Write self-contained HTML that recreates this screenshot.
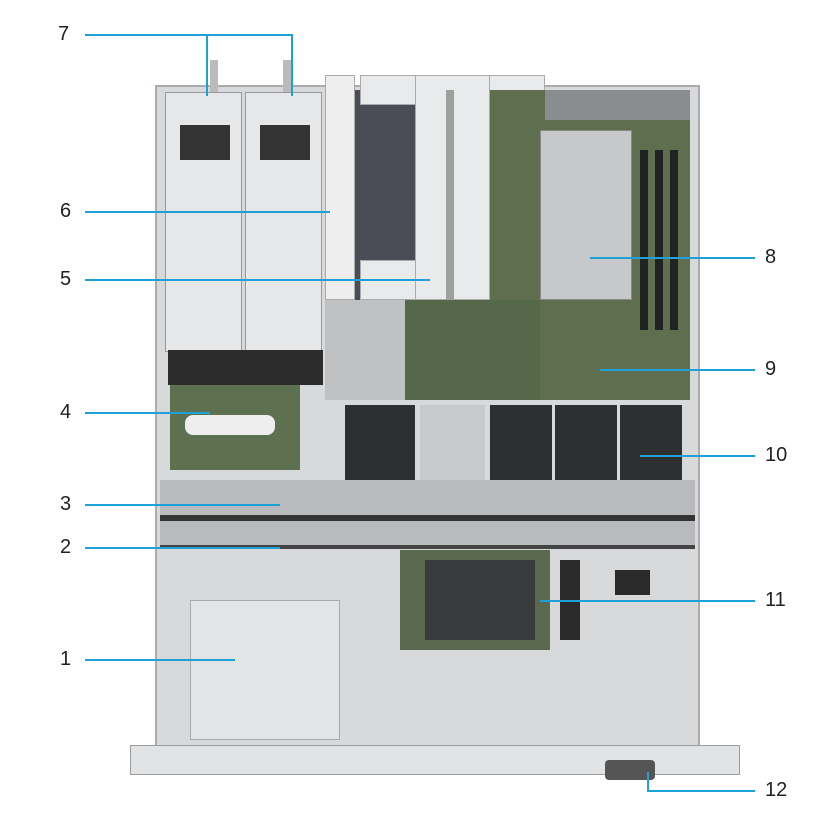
<!DOCTYPE html>
<html><head><meta charset="utf-8"><style>
body{margin:0;width:832px;height:815px;background:#fff;position:relative;overflow:hidden;font-family:"Liberation Sans",sans-serif}
div{position:absolute;box-sizing:border-box}
.t{font-size:20px;color:#222}
.l{background:#1ea0d8}
</style></head><body>
<!-- chassis -->
<div style="left:155px;top:85px;width:545px;height:665px;background:#d8d9db;border:2px solid #a9abae"></div>
<div style="left:130px;top:745px;width:610px;height:30px;background:#e2e3e5;border:1px solid #9a9c9f"></div>
<div style="left:605px;top:760px;width:50px;height:20px;background:#555;border-radius:4px"></div>
<!-- PSUs -->
<div style="left:210px;top:60px;width:8px;height:35px;background:#bbb"></div>
<div style="left:283px;top:60px;width:8px;height:35px;background:#bbb"></div>
<div style="left:165px;top:92px;width:77px;height:260px;background:#e6e7e9;border:1px solid #999"></div>
<div style="left:245px;top:92px;width:77px;height:260px;background:#e6e7e9;border:1px solid #999"></div>
<div style="left:180px;top:125px;width:50px;height:35px;background:#333"></div>
<div style="left:260px;top:125px;width:50px;height:35px;background:#333"></div>
<div style="left:168px;top:350px;width:155px;height:35px;background:#2c2c2c"></div>
<!-- riser -->
<div style="left:325px;top:75px;width:30px;height:225px;background:#eee;border:1px solid #aaa"></div>
<div style="left:355px;top:90px;width:85px;height:210px;background:#4a4d55"></div>
<div style="left:360px;top:75px;width:185px;height:30px;background:#e9eaec;border:1px solid #aaa"></div>
<div style="left:360px;top:260px;width:185px;height:40px;background:#e9eaec;border:1px solid #aaa"></div>
<div style="left:415px;top:75px;width:75px;height:225px;background:#e9eaec;border:1px solid #aaa"></div>
<div style="left:446px;top:90px;width:8px;height:210px;background:#9ea09a"></div>
<!-- motherboard -->
<div style="left:490px;top:90px;width:200px;height:310px;background:#5e6e4e"></div>
<div style="left:545px;top:90px;width:145px;height:30px;background:#8a8d90"></div>
<div style="left:540px;top:130px;width:92px;height:170px;background:#c6c8ca;border:1px solid #888"></div>
<div style="left:640px;top:150px;width:8px;height:180px;background:#222"></div>
<div style="left:655px;top:150px;width:8px;height:180px;background:#222"></div>
<div style="left:670px;top:150px;width:8px;height:180px;background:#222"></div>
<div style="left:400px;top:300px;width:140px;height:100px;background:#56684a"></div>
<!-- cables middle -->
<div style="left:325px;top:300px;width:80px;height:100px;background:#c0c1c3"></div>
<!-- PSU board -->
<div style="left:170px;top:385px;width:130px;height:85px;background:#5d7150"></div>
<div style="left:185px;top:415px;width:90px;height:20px;background:#eee;border-radius:8px"></div>
<!-- fans -->
<div style="left:345px;top:405px;width:70px;height:75px;background:#2e2f31"></div>
<div style="left:420px;top:405px;width:65px;height:75px;background:#c8c9cb"></div>
<div style="left:490px;top:405px;width:62px;height:75px;background:#2e2f31"></div>
<div style="left:555px;top:405px;width:62px;height:75px;background:#2e2f31"></div>
<div style="left:620px;top:405px;width:62px;height:75px;background:#2e2f31"></div>
<!-- cable band -->
<div style="left:160px;top:480px;width:535px;height:65px;background:#b9babd"></div>
<div style="left:160px;top:515px;width:535px;height:6px;background:#333"></div>
<div style="left:160px;top:545px;width:535px;height:4px;background:#444"></div>
<!-- lower -->
<div style="left:190px;top:600px;width:150px;height:140px;background:#e3e4e6;border:1px solid #aaa"></div>
<div style="left:400px;top:550px;width:150px;height:100px;background:#5b6a4e"></div>
<div style="left:425px;top:560px;width:110px;height:80px;background:#3a3b3d"></div>
<div style="left:560px;top:560px;width:20px;height:80px;background:#2a2a2a"></div>
<div style="left:615px;top:570px;width:35px;height:25px;background:#2a2a2a"></div>
<!-- callout lines -->
<div class="l" style="left:85px;top:34px;width:208px;height:2px"></div>
<div class="l" style="left:206px;top:34px;width:2px;height:62px"></div>
<div class="l" style="left:291px;top:34px;width:2px;height:62px"></div>
<div class="l" style="left:85px;top:211px;width:245px;height:2px"></div>
<div class="l" style="left:85px;top:279px;width:345px;height:2px"></div>
<div class="l" style="left:85px;top:412px;width:125px;height:2px"></div>
<div class="l" style="left:85px;top:504px;width:195px;height:2px"></div>
<div class="l" style="left:85px;top:547px;width:195px;height:2px"></div>
<div class="l" style="left:85px;top:659px;width:150px;height:2px"></div>
<div class="l" style="left:590px;top:257px;width:165px;height:2px"></div>
<div class="l" style="left:600px;top:369px;width:155px;height:2px"></div>
<div class="l" style="left:640px;top:455px;width:115px;height:2px"></div>
<div class="l" style="left:540px;top:600px;width:215px;height:2px"></div>
<div class="l" style="left:648px;top:790px;width:107px;height:2px"></div>
<div class="l" style="left:647px;top:772px;width:2px;height:20px"></div>
<!-- labels -->
<div class="t" style="left:58px;top:23px">7</div>
<div class="t" style="left:60px;top:200px">6</div>
<div class="t" style="left:60px;top:268px">5</div>
<div class="t" style="left:60px;top:401px">4</div>
<div class="t" style="left:60px;top:493px">3</div>
<div class="t" style="left:60px;top:536px">2</div>
<div class="t" style="left:60px;top:648px">1</div>
<div class="t" style="left:765px;top:246px">8</div>
<div class="t" style="left:765px;top:358px">9</div>
<div class="t" style="left:765px;top:444px">10</div>
<div class="t" style="left:765px;top:589px">11</div>
<div class="t" style="left:765px;top:779px">12</div>
</body></html>
